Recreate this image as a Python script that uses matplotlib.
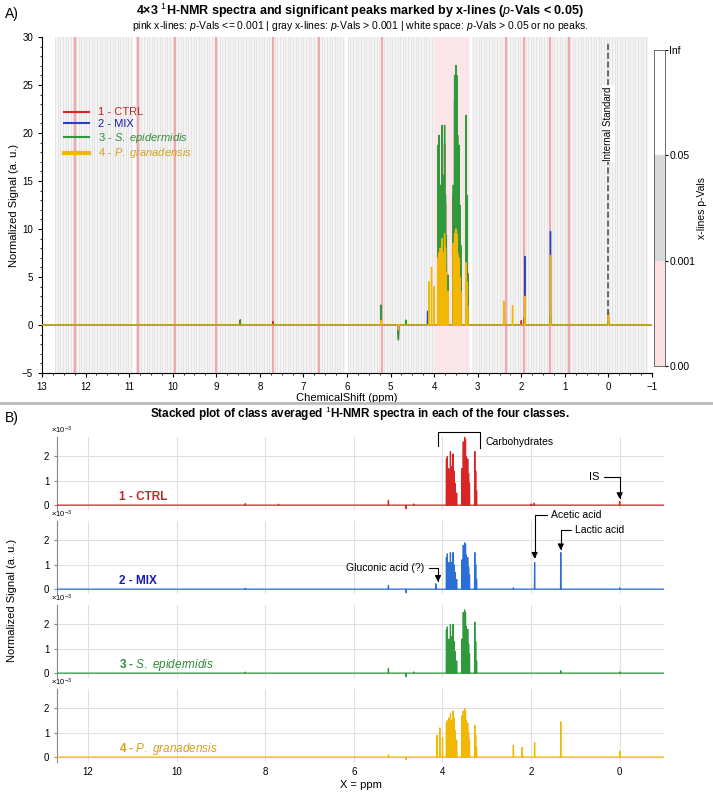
import matplotlib
matplotlib.use("Agg")
import matplotlib.pyplot as plt
import numpy as np

plt.rcParams['font.family'] = ['Liberation Sans', 'DejaVu Sans']
plt.rcParams['mathtext.fontset'] = 'custom'
plt.rcParams['mathtext.it'] = 'Liberation Sans:italic'
plt.rcParams['mathtext.bf'] = 'Liberation Sans:bold'
plt.rcParams['mathtext.rm'] = 'Liberation Sans'

# ---- data, heights in panel B units (x1e-3) ----
classes = ["1 - CTRL", "2 - MIX", "3 - S. epidermidis", "4 - P. granadensis"]
class_tex = ["1 - CTRL", "2 - MIX", "3 - $\\it{S.\\ epidermidis}$", "4 - $\\it{P.\\ granadensis}$"]
line_cols = ["#d92525", "#2a6fd4", "#2f9a3c", "#f2b705"]
linea_cols = ["#d92525", "#2540c0", "#2f9a3c", "#f2b705"]
label_cols = ["#c0282d", "#1a1aa6", "#2e8b3a", "#d4a017"]

carb_ppm = [3.91, 3.89, 3.86, 3.84, 3.82, 3.79, 3.76, 3.74, 3.72, 3.68, 3.56,
            3.53, 3.50, 3.48, 3.46, 3.43, 3.41, 3.39, 3.27, 3.25, 3.23]
carb_h = [
    [1.9, 2.0, 1.5, 1.3, 2.2, 1.6, 2.1, 1.4, 0.9, 0.5, 1.5, 2.6, 2.8, 2.7, 2.0, 1.9, 1.3, 0.9, 2.2, 1.4, 0.6],
    [1.3, 1.45, 1.1, 0.9, 1.5, 1.1, 1.5, 1.0, 0.7, 0.4, 1.2, 1.8, 1.9, 1.85, 1.4, 1.3, 0.9, 0.6, 1.5, 1.0, 0.4],
    [1.8, 1.9, 1.4, 1.2, 2.0, 1.5, 2.0, 1.3, 0.9, 0.5, 1.4, 2.5, 2.6, 2.5, 1.9, 1.8, 1.2, 0.8, 2.1, 1.3, 0.5],
    [1.4, 1.5, 1.6, 1.3, 1.8, 1.5, 1.9, 1.6, 1.1, 0.7, 1.7, 1.9, 2.0, 1.9, 1.5, 1.4, 1.0, 0.7, 1.3, 0.9, 0.4],
]
minor_ppm = [
    [8.45, 7.7, 5.22, 4.82, 4.65, 2.0, 1.93, 0.0],
    [8.45, 5.22, 4.82, 4.15, 2.4, 1.92, 1.33, 0.0],
    [8.45, 5.22, 4.82, 4.65, 1.33, 0.0],
    [5.22, 4.82, 4.12, 4.06, 4.0, 2.4, 2.2, 1.92, 1.33, 0.0],
]
minor_h = [
    [0.06, 0.04, 0.2, -0.15, 0.05, 0.05, 0.08, 0.15],
    [0.04, 0.15, -0.15, 0.22, 0.05, 1.1, 1.5, 0.05],
    [0.04, 0.2, -0.15, 0.05, 0.1, 0.05],
    [0.1, -0.1, 0.9, 1.2, 0.8, 0.5, 0.4, 0.6, 1.45, 0.25],
]
scale_a = [9.0, 6.5, 10.4, 5.0]   # panel A normalized signal per 1e-3

pink_lines = [12.25, 10.8, 9.95, 9.0, 7.7, 6.65, 5.2, 2.35, 1.93, 1.35, 0.9]
white_gaps = [(12.9, 12.7), (10.9, 10.85), (6.05, 5.98), (3.18, 3.12), (-0.9, -1.0)]
cbar_labels = ["0.00", "0.001", "0.05", "Inf"]


def spectrum(ppm, h, w=0.006):
    pts = [(13.2, 0.0), (-1.2, 0.0)]
    for p, v in zip(ppm, h):
        pts += [(p + w, 0.0), (p, v), (p - w, 0.0)]
    pts.sort(key=lambda t: -t[0])
    return np.array([t[0] for t in pts]), np.array([t[1] for t in pts])


specs = []
for i in range(4):
    specs.append(spectrum(carb_ppm + minor_ppm[i], carb_h[i] + minor_h[i]))

W, H = 713, 794
fig = plt.figure(figsize=(W / 100, H / 100), dpi=100)


def rect(x0, y0, x1, y1):
    return [x0 / W, 1 - y1 / H, (x1 - x0) / W, (y1 - y0) / H]


# ---------------- Panel A ----------------
axA = fig.add_axes(rect(42, 37, 652, 373))
axA.axvspan(12.7, -0.9, color="#f4f4f4", lw=0, zorder=0)
for g in np.arange(12.7, -0.9, -0.06):
    axA.axvline(g, color="#e2e2e2", lw=0.6, zorder=0)
for a, b in white_gaps:
    axA.axvspan(a, b, color="white", lw=0, zorder=0.5)
axA.axvspan(4.0, 3.2, color="#fce6e8", alpha=0.9, lw=0, zorder=0.6)
for p in pink_lines:
    axA.axvline(p, color="#f2a7ac", lw=1.6, zorder=0.7)

for i in [0, 1, 2, 3]:
    x, y = specs[i]
    axA.plot(x, y * scale_a[i], color=linea_cols[i], lw=1.0, zorder=2 + i)
axA.plot([0, 0], [1.0, 29.5], ls="--", color="#555555", lw=1.2, zorder=6)
axA.text(0, 21, "Internal Standard", rotation=90, ha="center", va="center",
         fontsize=7, bbox=dict(fc="white", ec="none", pad=1), zorder=7)

axA.set_xlim(13, -1)
axA.set_ylim(-5, 30)
axA.set_xticks(range(13, -2, -1))
axA.set_xticks(np.arange(13, -1.01, -0.25), minor=True)
axA.set_yticks(range(-5, 31, 5))
axA.set_yticks(range(-5, 31, 1), minor=True)
axA.tick_params(labelsize=7, direction="out", length=3)
axA.tick_params(which="minor", length=1.5)
for s in ["top", "right"]:
    axA.spines[s].set_visible(False)
axA.set_xlabel("ChemicalShift (ppm)", fontsize=8, labelpad=1)
axA.set_ylabel("Normalized Signal (a. u.)", fontsize=8, labelpad=2)

handles = [plt.Line2D([], [], color=linea_cols[i], lw=1.5 if i < 3 else 3) for i in range(4)]
leg = axA.legend(handles, class_tex, loc="upper left", bbox_to_anchor=(0.02, 0.82),
                 frameon=False, fontsize=8, handlelength=2.2, labelspacing=0.15)
for t, c in zip(leg.get_texts(), label_cols):
    t.set_color(c)

fig.text(360 / W, 1 - 11 / H, "4×3 $^1$H-NMR spectra and significant peaks marked by x-lines ($\\bf{\\it{p}}$-Vals < 0.05)",
         ha="center", va="center", fontsize=9, fontweight="bold")
fig.text(360 / W, 1 - 26 / H, "pink x-lines: $\\it{p}$-Vals <= 0.001 | gray x-lines: $\\it{p}$-Vals > 0.001 | white space: $\\it{p}$-Vals > 0.05 or no peaks.",
         ha="center", va="center", fontsize=7.5)
fig.text(5 / W, 1 - 14 / H, "A)", fontsize=10, va="center")

# colorbar
axC = fig.add_axes(rect(654, 50, 665, 366))
axC.axhspan(0, 1 / 3, color="#fbe0e2", lw=0)
axC.axhspan(1 / 3, 2 / 3, color="#d9d9d9", lw=0)
axC.axhspan(2 / 3, 1, color="white", lw=0)
axC.set_xlim(0, 1)
axC.set_ylim(0, 1)
axC.set_xticks([])
axC.yaxis.tick_right()
axC.yaxis.set_label_position("right")
axC.set_yticks([0, 1 / 3, 2 / 3, 1])
axC.set_yticklabels(cbar_labels, fontsize=7.5)
axC.tick_params(length=2, pad=1)
for s in axC.spines.values():
    s.set_color("#555555")
    s.set_linewidth(0.6)
axC.set_ylabel("x-lines p-Vals", fontsize=7.5, labelpad=1)

# separator
fig.add_artist(plt.Line2D([0, 1], [1 - 403 / H, 1 - 403 / H], color="#bbbbbb", lw=2))

# ---------------- Panel B ----------------
fig.text(5 / W, 1 - 418 / H, "B)", fontsize=10, va="center")
fig.text(360 / W, 1 - 414 / H, "Stacked plot of class averaged $^1$H-NMR spectra in each of the four classes.",
         ha="center", va="center", fontsize=8.5, fontweight="bold")

axesB = []
for i in range(4):
    top = 437 + 84 * i
    ax = fig.add_axes(rect(57, top, 664, top + 73))
    x, y = specs[i]
    ax.plot(x, y, color=line_cols[i], lw=0.9, zorder=3)
    ax.set_xlim(12.7, -1)
    ax.set_ylim(-0.2, 2.8)
    ax.set_yticks([0, 1, 2])
    ax.set_xticks(range(12, -1, -2))
    ax.grid(True, color="#e0e0e0", lw=0.8)
    ax.set_axisbelow(True)
    for s in ["top", "right", "bottom"]:
        ax.spines[s].set_visible(False)
    ax.spines["left"].set_color("#888888")
    ax.tick_params(labelsize=7, length=2, color="#888888")
    ax.tick_params(axis="x", length=0)
    if i < 3:
        ax.set_xticklabels([])
    ax.text(-0.01, 1.02, "×10$^{-3}$", transform=ax.transAxes, fontsize=5.5,
            ha="left", va="bottom")
    ax.text(11.3, 0.35, class_tex[i], color=label_cols[i], fontsize=8.5,
            fontweight="bold", ha="left", va="center")
    axesB.append(ax)

axesB[3].set_xlabel("X = ppm", fontsize=8, labelpad=2)
fig.text(12 / W, 1 - 600 / H, "Normalized Signal (a. u.)", rotation=90,
         ha="center", va="center", fontsize=8)

arrow = dict(arrowstyle="-|>", color="black", lw=0.8, mutation_scale=9,
             connectionstyle="angle,angleA=0,angleB=90,rad=0", shrinkA=1, shrinkB=0)
a0 = axesB[0]
a0.plot([4.1, 4.1, 3.15, 3.15], [2.45, 3.0, 3.0, 2.35], color="black", lw=0.8, clip_on=False)
a0.text(3.02, 2.6, "Carbohydrates", fontsize=7.5, va="center")
a0.annotate("IS", xy=(0, 0.25), xytext=(0.45, 1.15), fontsize=8, ha="right", va="center",
            arrowprops=arrow, annotation_clip=False)
a1 = axesB[1]
a1.annotate("Acetic acid", xy=(1.92, 1.25), xytext=(1.55, 3.05), fontsize=7.5, va="center",
            arrowprops=arrow, annotation_clip=False)
a1.annotate("Lactic acid", xy=(1.33, 1.6), xytext=(1.0, 2.45), fontsize=7.5, va="center",
            arrowprops=arrow, annotation_clip=False)
a1.annotate("Gluconic acid (?)", xy=(4.1, 0.3), xytext=(4.4, 0.85), fontsize=7.5, ha="right",
            va="center", arrowprops=arrow, annotation_clip=False)

fig.savefig("out.png", dpi=100)
